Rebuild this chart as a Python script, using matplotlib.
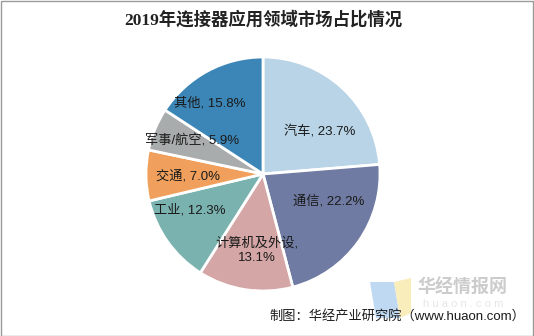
import matplotlib
matplotlib.use("Agg")
import matplotlib.pyplot as plt
from matplotlib.patches import Rectangle, Polygon

plt.rcParams['font.family'] = ['Liberation Sans', 'Noto Sans CJK SC', 'DejaVu Sans']

# data
categories = ['汽车', '通信', '计算机及外设', '工业', '交通', '军事/航空', '其他']
shares = [23.7, 22.2, 13.1, 12.3, 7.0, 5.9, 15.8]
colors = ['#B8D4E6', '#6F7BA2', '#D4A6A6', '#7AB2AF', '#F0A05C', '#A9ACAC', '#3C86B7']
label_text = ['汽车, 23.7%', '通信, 22.2%', '计算机及外设,\n13.1%', '工业, 12.3%',
              '交通, 7.0%', '军事/航空, 5.9%', '其他, 15.8%']

# label centres in pixel coordinates of the original image (x, y from top)
label_px = [(320, 131), (329, 201), (257, 250), (190, 210), (188, 176), (192, 141), (210, 103)]

W, H = 534, 336
cx, cy, R = 263, 174, 117

fig = plt.figure(figsize=(W / 100, H / 100), dpi=100)
fig.patch.set_facecolor('white')

ax = fig.add_axes([(cx - R) / W, (H - cy - R) / H, 2 * R / W, 2 * R / H])
wedges, _ = ax.pie(shares, colors=colors, startangle=90, counterclock=False,
                   wedgeprops=dict(edgecolor='white', linewidth=2))
for w in wedges:
    w.set_clip_on(False)
ax.set_xlim(-1, 1)
ax.set_ylim(-1, 1)
ax.set_aspect('equal')
ax.axis('off')

for txt, (px, py) in zip(label_text, label_px):
    ax.text((px - cx) / R, (cy - py) / R, txt, ha='center', va='center',
            fontsize=9.5, color='#1a1a1a', linespacing=1.3)

# title
fig.text(263 / W, 1 - 20 / H, '2019年连接器应用领域市场占比情况', ha='center', va='center',
         fontsize=12.5, fontweight='bold', color='#222222',
         family=['Liberation Serif', 'Noto Sans CJK SC'])

# watermark logo
fig.patches.append(Polygon([(370 / W, 1 - 282 / H), (394 / W, 1 - 282 / H), (400 / W, 1 - 318 / H),
                            (376 / W, 1 - 318 / H)], closed=True, transform=fig.transFigure,
                           facecolor='#B4D3F2', edgecolor='none', alpha=0.85))
fig.patches.append(Polygon([(394 / W, 1 - 282 / H), (411 / W, 1 - 278 / H), (411 / W, 1 - 313 / H),
                            (400 / W, 1 - 318 / H)], closed=True, transform=fig.transFigure,
                           facecolor='#F8EAB0', edgecolor='none', alpha=0.85))
fig.text(463 / W, 1 - 288 / H, '华经情报网', ha='center', va='center', fontsize=13,
         fontweight='bold', color='#CCCCCC')
fig.text(463 / W, 1 - 304 / H, 'h u a o n . c o m', ha='center', va='center', fontsize=8,
         color='#E6E6E6')

# source
fig.text(525 / W, 1 - 316 / H, '制图：华经产业研究院（www.huaon.com）', ha='right', va='center',
         fontsize=9.5, color='#1a1a1a')

# outer frame
fig.patches.append(Rectangle((0.5 / W, 0.5 / H), 1 - 1.5 / W, 1 - 1.5 / H, transform=fig.transFigure,
                             fill=False, edgecolor='#9A9A9A', linewidth=1))

fig.savefig('out.png', dpi=100)
